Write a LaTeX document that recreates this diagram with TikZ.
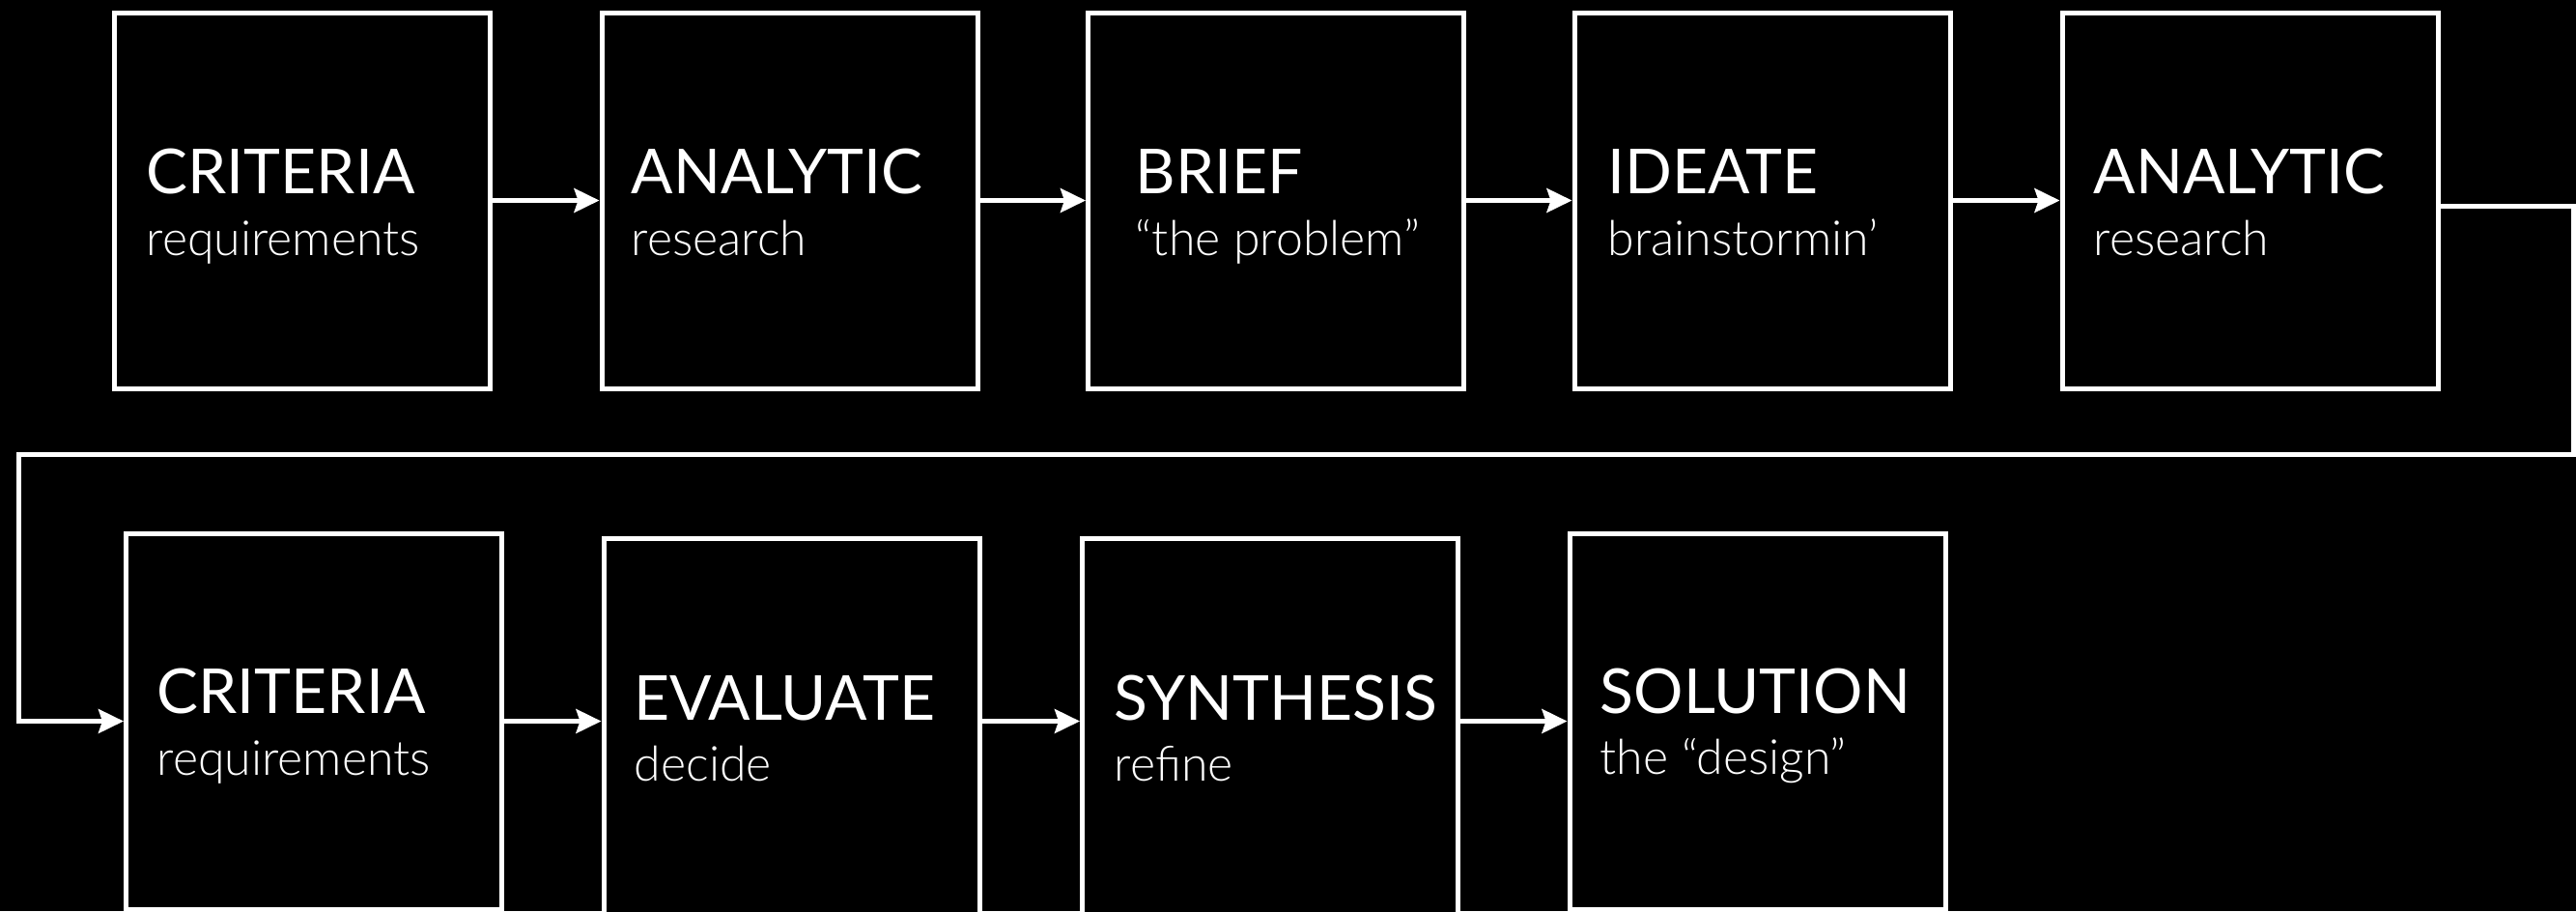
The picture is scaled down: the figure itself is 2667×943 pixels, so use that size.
\documentclass[tikz,border=0pt]{standalone}
\usepackage{fontspec}
\setmainfont{Lato}
\newfontfamily\lightfont{Lato Light}
\usetikzlibrary{arrows.meta}
\begin{document}
\begin{tikzpicture}[x=0.25pt,y=-0.25pt,
  stagebox/.style={draw=white, line width=1.25pt, fill=black,
    minimum width=97.25pt, minimum height=97.25pt, inner sep=0pt},
  stagetitle/.style={text=white, anchor=base west, inner sep=0pt,
    font=\fontsize{16.05}{18}\selectfont},
  stagesub/.style={text=white, anchor=base west, inner sep=0pt,
    font=\lightfont\fontsize{12.5}{14}\selectfont},
  flow/.style={draw=white, line width=1.25pt,
    -{Stealth[length=6.5pt,width=6.2pt,inset=1pt]}}
]
% canvas
\fill[black] (0,0) rectangle (2667,943);
\useasboundingbox (0,0) rectangle (2667,943);
\clip (0,0) rectangle (2667,943);

% first row of stages
\node[stagebox] (b1) at (312.5,207.5) {};
\node[stagebox] (b2) at (817.5,207.5) {};
\node[stagebox] (b3) at (1321,207.5) {};
\node[stagebox] (b4) at (1824.5,207.5) {};
\node[stagebox] (b5) at (2329.5,207.5) {};

% second row of stages
\node[stagebox] (b6) at (325,746.5) {};
\node[stagebox] (b7) at (819.5,751.5) {};
\node[stagebox] (b8) at (1315,751.5) {};
\node[stagebox] (b9) at (1819.5,746.5) {};

% labels
\node[stagetitle] (t1) at (151,200) {CRITERIA};
\node[stagesub]   (s1) at (151,264) {requirements};
\node[stagetitle] (t2) at (653,200) {ANALYTIC};
\node[stagesub]   (s2) at (653,264) {research};
\node[stagetitle] (t3) at (1175,200) {BRIEF};
\node[stagesub]   (s3) at (1175,264) {“the problem”};
\node[stagetitle] (t4) at (1664,200) {IDEATE};
\node[stagesub]   (s4) at (1664,264) {brainstormin’};
\node[stagetitle] (t5) at (2167,200) {ANALYTIC};
\node[stagesub]   (s5) at (2167,264) {research};
\node[stagetitle] (t6) at (162,738) {CRITERIA};
\node[stagesub]   (s6) at (162,802) {requirements};
\node[stagetitle] (t7) at (656,745) {EVALUATE};
\node[stagesub]   (s7) at (656,808) {decide};
\node[stagetitle] (t8) at (1153,745) {SYNTHESIS};
\node[stagesub]   (s8) at (1153,808) {refine};
\node[stagetitle] (t9) at (1656,738) {SOLUTION};
\node[stagesub]   (s9) at (1656,801) {the “design”};

% first row flow
\draw[flow] (b1.east) -- (b2.west);
\draw[flow] (b2.east) -- (b3.west);
\draw[flow] (b3.east) -- (b4.west);
\draw[flow] (b4.east) -- (b5.west);

% return path to the second row
\coordinate (r1) at (2664,213);
\coordinate (r2) at (2664,470);
\coordinate (r3) at (19,470);
\coordinate (r4) at (19,746.5);
\draw[flow] ([yshift=-1.375pt]b5.east) -- (r1) -- (r2) -- (r3) -- (r4) -- (b6.west);

% second row flow
\draw[flow] (b6.east) -- (b7.west |- b6.east);
\draw[flow] (b7.east |- b6.east) -- (b8.west |- b6.east);
\draw[flow] (b8.east |- b6.east) -- (b9.west);
\end{tikzpicture}
\end{document}
